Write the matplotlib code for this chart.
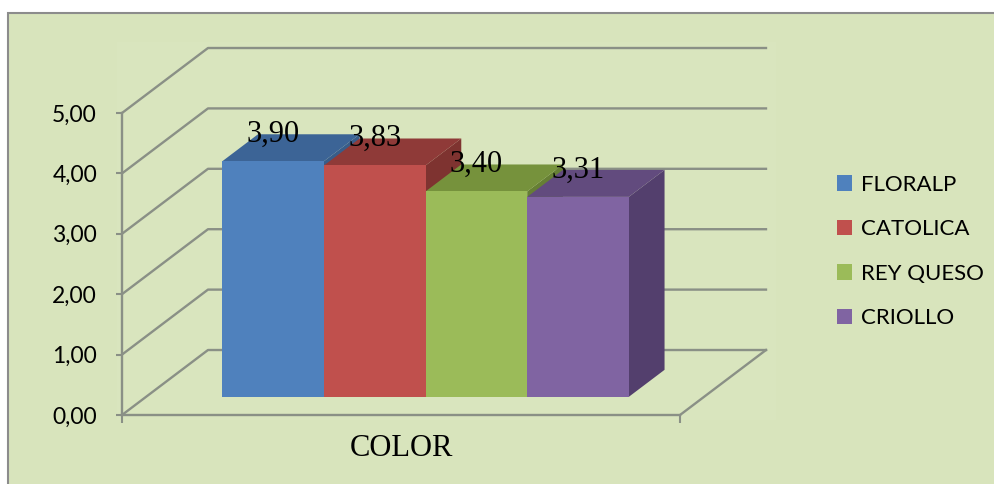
import matplotlib
matplotlib.use("Agg")
import matplotlib.pyplot as plt
from matplotlib.patches import Polygon, Rectangle

plt.rcParams['font.family'] = ['Lato', 'DejaVu Sans']

# datos
categoria = "COLOR"
marcas = ["FLORALP", "CATOLICA", "REY QUESO", "CRIOLLO"]
valores = [3.90, 3.83, 3.40, 3.31]
yticks = [0, 1, 2, 3, 4, 5]

# colores (frente, arriba, lado)
c_frente = ["#4F81BD", "#C0504D", "#9BBB59", "#8064A2"]
c_arriba = ["#3C6496", "#8F3A38", "#76923C", "#624B7E"]
c_lado = ["#385D8A", "#7E3330", "#667F34", "#533F6D"]

BG = "#D8E4BC"
GRID = "#8A9086"

W = 5.49          # ancho del piso (unidades de barra)
DX, DY = 0.846, 1.076   # desplazamiento de profundidad
F0, F1 = 0.28, 0.695    # profundidad de las barras

fig = plt.figure(figsize=(9.94, 4.84), dpi=100)
fig.patch.set_facecolor("white")
fig.patches.append(Rectangle((8 / 994, -0.01), 1.0, 1 - 13 / 484 + 0.01,
                             transform=fig.transFigure, facecolor=BG,
                             edgecolor="#8C8C8C", lw=1.5, zorder=-10))

ax = fig.add_axes([122 / 994, 69 / 484, 558 / 994, 302 / 484])
ax.set_xlim(0, W)
ax.set_ylim(0, 5)
ax.patch.set_visible(False)

# area de trazado (apenas mas clara)
ax.add_patch(Rectangle((-0.05, -0.08), 6.48, 6.25, facecolor="#D9E5BE",
                       edgecolor="none", clip_on=False, zorder=0))

# paredes: lineas de cuadricula y piso
for v in yticks:
    ax.plot([0, DX, W + DX], [v, v + DY, v + DY], color=GRID, lw=1.7,
            clip_on=False, zorder=1)
ax.plot([W, W + DX], [0, DY], color=GRID, lw=1.7, clip_on=False, zorder=1)

# barras 3D
for i, (v, lab) in enumerate(zip(valores, marcas)):
    xl = 0.75 + i
    z = 3 + 3 * i
    lado = [(xl + 1 + F0 * DX, F0 * DY), (xl + 1 + F1 * DX, F1 * DY),
            (xl + 1 + F1 * DX, v + F1 * DY), (xl + 1 + F0 * DX, v + F0 * DY)]
    ax.add_patch(Polygon(lado, closed=True, facecolor=c_lado[i],
                         edgecolor="none", clip_on=False, zorder=z))
    arriba = [(xl + F0 * DX, v + F0 * DY), (xl + 1 + F0 * DX, v + F0 * DY),
              (xl + 1 + F1 * DX, v + F1 * DY), (xl + F1 * DX, v + F1 * DY)]
    ax.add_patch(Polygon(arriba, closed=True, facecolor=c_arriba[i],
                         edgecolor="none", clip_on=False, zorder=z + 1))
    ax.bar(xl + F0 * DX, v, width=1, bottom=F0 * DY, align="edge",
           color=c_frente[i], label=lab, zorder=z + 2, clip_on=False)
    ax.text(xl + 0.5 + F0 * DX, v + F1 * DY, f"{v:.2f}".replace(".", ","),
            ha="center", va="center", fontsize=22,
            family=["Liberation Serif", "DejaVu Serif"], zorder=30)

# ejes
for s in ["top", "right"]:
    ax.spines[s].set_visible(False)
for s in ["left", "bottom"]:
    ax.spines[s].set_color(GRID)
    ax.spines[s].set_linewidth(1.7)
    ax.spines[s].set_zorder(2)

ax.set_yticks(yticks)
ax.set_yticklabels([f"{v:.2f}".replace(".", ",") for v in yticks])
ax.tick_params(axis="y", length=4.5, width=1.5, color=GRID, pad=13.5,
               labelsize=16.5, labelcolor="black")

ax.set_xticks([W / 2])
ax.set_xticklabels([categoria], family=["Liberation Serif", "DejaVu Serif"],
                   fontsize=22)
ax.set_xticks([0, W], minor=True)
ax.tick_params(axis="x", which="major", length=0, pad=14)
ax.tick_params(axis="x", which="minor", length=6, width=1.5, color=GRID)

leg = ax.legend(loc="center left", bbox_to_anchor=(837 / 994, 1 - 251.5 / 484),
                bbox_transform=fig.transFigure, frameon=False, fontsize=16,
                handlelength=0.68, handleheight=0.68, handletextpad=0.4,
                labelspacing=1.1, borderpad=0, borderaxespad=0)

fig.savefig("out.png", dpi=100, facecolor=fig.get_facecolor())
